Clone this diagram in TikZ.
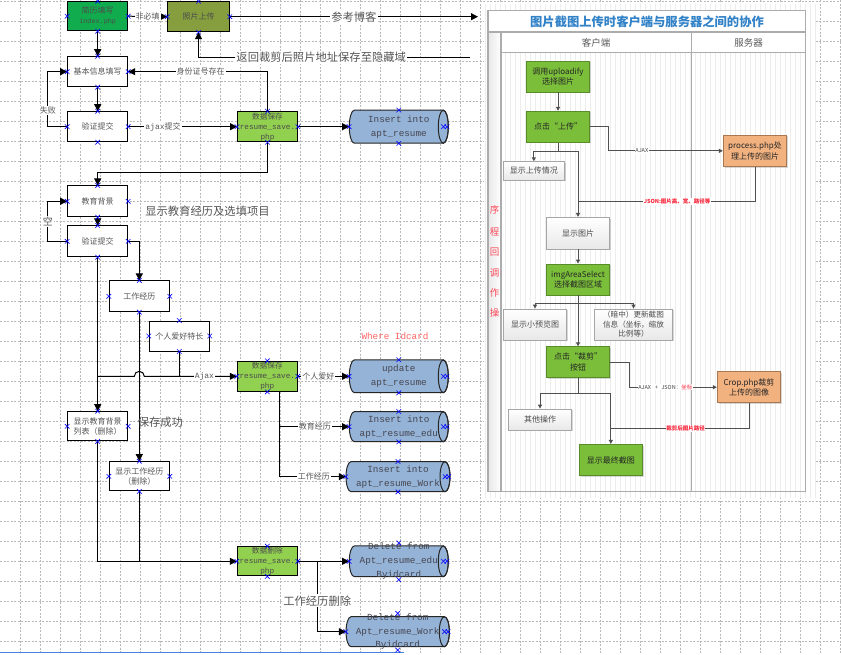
\documentclass[tikz,border=0pt]{standalone}
\usepackage{fontspec}
\setmainfont{Noto Sans CJK SC}
\newfontfamily\mono{Liberation Mono}
\usetikzlibrary{arrows.meta,calc,shapes.misc,shadows}
\definecolor{dkgreen}{RGB}{16,172,78}
\definecolor{olivebox}{RGB}{134,158,62}
\definecolor{lgreen}{RGB}{146,208,80}
\definecolor{cylblue}{RGB}{149,179,215}
\definecolor{txt}{RGB}{85,85,85}
\definecolor{cyltext}{RGB}{70,70,80}
\definecolor{igreen}{RGB}{122,190,58}
\definecolor{igreenb}{RGB}{88,140,40}
\definecolor{iorange}{RGB}{242,178,128}
\definecolor{iorangeb}{RGB}{170,120,80}
\definecolor{ititle}{RGB}{50,130,200}
\definecolor{iline}{RGB}{80,80,80}
\definecolor{ired}{RGB}{250,40,60}
\definecolor{wred}{RGB}{255,100,100}
\definecolor{winblue}{RGB}{70,130,220}
\newcommand\mycylbody[4]{%
  \filldraw[fill=cylblue,draw=black!85,line width=1pt]
    ({#1-#3/2+5},{#2-#4/2}) -- ({#1+#3/2-5},{#2-#4/2})
    arc[start angle=-90,end angle=90,x radius=5,y radius=#4/2]
    -- ({#1-#3/2+5},{#2+#4/2})
    arc[start angle=90,end angle=270,x radius=5,y radius=#4/2] -- cycle;
  \draw[line width=1pt,black!85] ({#1+#3/2-5},#2) ellipse[x radius=5,y radius=#4/2];}
\newcommand\mycyl[6]{\mycylbody{#2}{#3}{#4}{#5}%
  \node[cyltxt,minimum width=#4pt,minimum height=#5pt] (#1) at (#2,#3) {#6};}
\begin{document}
\begin{tikzpicture}[x=1pt,y=-1pt,
  gridst/.style={draw=gray!55,line width=0.7pt,dash pattern=on 2pt off 1.5pt},
  box/.style={draw=black,line width=1pt,fill=white,minimum width=60pt,minimum height=30pt,inner sep=0pt,align=center,text=txt,font=\fontsize{8}{10}\selectfont},
  lbl/.style={fill=white,inner sep=1pt,text=txt,font=\fontsize{8}{9}\selectfont},
  big/.style={inner sep=1pt,text=txt,font=\fontsize{11.3}{13}\selectfont},
  bigf/.style={big,fill=white},
  arr/.style={line width=1pt,-{Triangle[length=7pt,width=7pt]}},
  ln/.style={line width=1pt},
  cyltxt/.style={inner sep=0pt,align=center,text=cyltext,font=\mono\fontsize{9.3}{13.8}\selectfont},
  mk/.style={cross out,draw=blue,line width=0.6pt,minimum size=4pt,inner sep=0pt},
  ib/.style={line width=0.8pt,minimum width=62.6pt,minimum height=31pt,inner sep=1pt,align=center,font=\fontsize{8}{10.5}\selectfont,drop shadow={shadow xshift=1.2pt,shadow yshift=-1.2pt,opacity=0.3}},
  ig/.style={ib,draw=igreenb,fill=igreen,text=black!85},
  igray/.style={ib,draw=gray!70,top color=white,bottom color=gray!18,text=black!70},
  ior/.style={ib,draw=iorangeb,fill=iorange,text=black!85},
  iarr/.style={draw=iline,line width=1pt,-{Triangle[length=4pt,width=4pt]}},
  iln/.style={draw=iline,line width=1pt},
  ilbl/.style={fill=white,inner sep=0.6pt,text=black!75,font=\fontsize{5.5}{6}\selectfont}]
\useasboundingbox (0,0) rectangle (841,654);
\fill[white] (0,0) rectangle (841,654);
% background grid
\foreach \i in {1,...,42} \draw[gridst] (20*\i,0) -- (20*\i,654);
\foreach \i in {0,...,32} \draw[gridst] (0,1.7+20*\i) -- (841,1.7+20*\i);
\draw[line width=1.6pt,winblue] (0,652.5) -- (404,652.5);

% ---------------- inset ----------------
\fill[white] (484,4) rectangle (816,498);
\draw[step=5,gray!14,line width=0.4pt] (484,4) grid (816,498);
\fill[white] (488,10.7) rectangle (805.7,52.7);
\shade[left color=gray!18,right color=white] (488,32) rectangle (501,491.7);
\draw[gray!65,line width=1.3pt] (488,10.7) rectangle (805.7,491.7);
\draw[gray!65,line width=1.1pt] (488,32) -- (805.7,32);
\draw[gray!65,line width=1.1pt] (501,52.7) -- (805.7,52.7);
\draw[gray!65,line width=1.5pt] (501,32) -- (501,491.7);
\draw[gray!65,line width=1.5pt] (691.7,32) -- (691.7,491.7);
\node[text=ititle,font=\bfseries\fontsize{12.3}{14}\selectfont] (ititlen) at (647,21.3) {图片截图上传时客户端与服务器之间的协作};
\node[text=black!65,font=\fontsize{9.5}{11}\selectfont] (hc) at (596,42.5) {客户端};
\node[text=black!65,font=\fontsize{9.5}{11}\selectfont] (hs) at (748.7,42.5) {服务器};
\foreach \c/\yy in {序/210,程/231.7,回/251.7,调/273.3,作/293.3,操/313.3}
  \node[text=ired!85,font=\fontsize{9.5}{10}\selectfont,inner sep=0pt] at (494.5,\yy) {\c};

\node[ig] (iu) at (558,76.5) {调用uploadify\\选择图片};
\node[ig] (idj) at (558,126.7) {点击“上传”};
\node[ior,minimum width=63.4pt,minimum height=31.7pt] (iproc) at (755,150.85) {process.php处\\理上传的图片};
\node[igray,minimum width=61pt,minimum height=18.3pt] (isc) at (533.8,170.85) {显示上传情况};
\node[igray,minimum height=31.7pt] (ixt) at (578,233.2) {显示图片};
\node[ig] (iia) at (578,279.5) {imgAreaSelect\\选择截图区域};
\node[igray,minimum width=63.4pt] (ixy) at (535,324.5) {显示小预览图};
\node[igray,minimum width=78.4pt,font=\fontsize{7.6}{9.6}\selectfont] (iam) at (633.5,324.5) {（暗中）更新截图\\信息（坐标，缩放\\比例等）};
\node[ig,minimum height=30.6pt] (idc) at (578,362) {点击“裁剪”\\按钮};
\node[ior,minimum width=63.4pt] (icrop) at (749,387.2) {Crop.php裁剪\\上传的图像};
\node[igray,minimum width=63.4pt,minimum height=21pt] (iqt) at (540,419.5) {其他操作};
\node[ig,minimum width=63pt,minimum height=31.4pt] (izz) at (610.8,460) {显示最终截图};

\coordinate (ij1) at (578,201.7);
\coordinate (ij2) at (611,428.7);
\draw[iarr] (iu.south) -- (idj.north);
\draw[iarr] (idj.east) -- ++(19,0) |- node[ilbl,pos=0.645]{AJAX} (iproc.west);
\draw[iarr] (idj.south) -- ++(0,8.4) -| (isc.north);
\draw[iarr] (idj.south) -- ++(0,8.4) -| (ixt.north);
\draw[iln] (iproc.south) |- node[ilbl,pos=0.72,text=ired,font=\bfseries\fontsize{5.5}{6}\selectfont]{JSON:图片高、宽、路径等} (ij1);
\draw[iarr] (ixt.south) -- (iia.north);
\draw[iarr] (iia.south) -- ++(0,7.7) -| (ixy.north);
\draw[iarr] (iia.south) -- ++(0,7.7) -| (iam.north);
\draw[iarr] (iia.south) -- (idc.north);
\draw[iarr] (idc.east) -- ++(19.7,0) |- node[ilbl,pos=0.705]{AJAX\ \ \ +\ \ \ JSON：\textcolor{ired}{坐标}} (icrop.west);
\draw[iln] (icrop.south) |- node[ilbl,pos=0.73,text=ired,font=\bfseries\fontsize{5.5}{6}\selectfont]{裁剪后图片路径} (ij2);
\draw[iarr] (idc.south) -- ++(0,15.4) -| (iqt.north);
\draw[iarr] (idc.south) -- ++(0,15.4) -| (izz.north);

% ---------------- left flow ----------------
\node[box,fill=dkgreen,minimum height=29pt,text=black!70] (jl) at (97.7,16.2) {简历填写\\{\mono\fontsize{6.8}{8}\selectfont index.php}};
\node[box,fill=olivebox,minimum width=61.6pt,text=black!70] (zp) at (198.5,16.7) {照片上传};
\node[box] (jb) at (97.7,71.7) {基本信息填写};
\node[box] (yz1) at (97.7,126.7) {验证提交};
\node[box,fill=lgreen,text=black!70,font=\fontsize{7.7}{10}\selectfont] (ds1) at (267.5,126.7) {数据保存\\{\mono resume\_save.}\\{\mono php}};
\node[box,minimum height=30.7pt] (jy) at (97.7,201.3) {教育背景};
\node[box,minimum height=30.7pt] (yz2) at (97.7,241.3) {验证提交};
\node[box,minimum height=30.7pt] (gz) at (139.3,296.3) {工作经历};
\node[box] (ah) at (179.3,336) {个人爱好特长};
\node[box,fill=lgreen,text=black!70,font=\fontsize{7.7}{10}\selectfont] (ds2) at (267.3,376.3) {数据保存\\{\mono resume\_save.}\\{\mono php}};
\node[box,minimum height=29.3pt] (xj) at (97.7,426.3) {显示教育背景\\列表（删除）};
\node[box,minimum height=29.3pt] (xg) at (139.3,476.3) {显示工作经历\\（删除）};
\node[box,fill=lgreen,text=black!70,font=\fontsize{7.7}{10}\selectfont,minimum height=29.3pt] (ds3) at (267.3,561.3) {数据删除\\{\mono resume\_save.}\\{\mono php}};

\mycyl{ins1}{398.8}{126.7}{99}{33}{Insert into\\apt\_resume}
\mycyl{up1}{398.8}{376.3}{99}{32.7}{update\\apt\_resume}
\mycyl{inse}{398.8}{426.7}{99}{30}{Insert into\\apt\_resume\_edu}
\mycyl{insw}{398}{476.7}{104}{30}{Insert into\\apt\_resume\_Work}
\mycyl{de1}{398.8}{561.3}{99}{30.7}{Delete from\\Apt\_resume\_edu\\Byidcard}
\mycyl{de2}{397.7}{631.7}{103.3}{30}{Delete from\\Apt\_resume\_Work\\Byidcard}

\node[text=wred,font=\mono\fontsize{9.3}{11}\selectfont] (wh) at (395,335.7) {Where Idcard};
\node[big] (edutxt) at (207.5,211.5) {显示教育经历及选填项目};

\coordinate (blog) at (478,16.7);
\coordinate (ret) at (470,57.7);
\draw[arr] (jl.east) -- node[lbl]{非必填} (zp.west);
\draw[arr] (zp.east) -- node[bigf]{参考博客} (blog);
\draw[arr] (ret) -| node[bigf,pos=0.274]{返回裁剪后照片地址保存至隐藏域} (zp.south);
\draw[arr] (jl.south) -- (jb.north);
\draw[arr] (jb.south) -- (yz1.north);
\draw[arr] (yz1.west) -- ++(-19.4,0) |- node[lbl,pos=0.15]{失败} (jb.west);
\draw[arr] (yz1.east) -- node[lbl,pos=0.32]{{\mono ajax}提交} (ds1.west);
\draw[arr] (ds1.north) |- node[lbl,pos=0.74]{身份证号存在} (jb.east);
\draw[arr] (ds1.east) -- (ins1.west);
\draw[arr] (ds1.south) -- ++(0,30) -| (jy.north);
\draw[arr] (jy.south) -- (yz2.north);
\draw[arr] (yz2.west) -- ++(-19.4,0) |- node[lbl,pos=0.25,font=\fontsize{10}{11}\selectfont]{空} (jy.west);
\draw[arr] (yz2.east) -| (gz.north);
\draw[arr] (yz2.south) -- (xj.north);
\draw[ln] (ah.south) -- (ah.south |- ds2.west);
\draw[arr] (yz2.south |- ds2.west) -- ($(gz.south |- ds2.west)+(-5,0)$) arc[start angle=180,end angle=360,radius=5] -- node[lbl,pos=0.65,font=\mono\fontsize{8}{9}\selectfont]{Ajax} (ds2.west);
\draw[arr] (gz.south) -- node[big,pos=0.74,anchor=west,xshift=-3pt]{保存成功} (xg.north);
\draw[arr] (ds2.east) -- node[lbl,pos=0.4]{个人爱好} (up1.west);
\coordinate (ds2b) at ($(ds2.south)+(12,0)$);
\draw[arr] (ds2b) |- node[lbl,pos=0.755]{教育经历} (inse.west);
\draw[arr] (ds2b) |- node[lbl,pos=0.76]{工作经历} (insw.west);
\draw[arr] (xj.south) |- (ds3.west);
\draw[ln] (xg.south) -- (xg.south |- ds3.west);
\draw[arr] (ds3.east) -- (de1.west);
\coordinate (ds3r) at ($(ds3.east)+(19.4,0)$);
\draw[arr] (ds3r) |- node[bigf,pos=0.28]{工作经历删除} (de2.west);

% connection markers
\foreach \n in {jl,zp,jb,yz1,ds1,jy,yz2,gz,ah,ds2,xj,xg,ds3}
  \foreach \a in {north,south,east,west} \node[mk] at (\n.\a) {};
\foreach \n in {ins1,up1,inse,insw,de1,de2} {
  \node[mk] at (\n.north) {}; \node[mk] at (\n.south) {}; \node[mk] at (\n.west) {};
  \node[mk] at ($(\n.east)+(-5,0)$) {}; \node[mk] at ($(\n.east)+(-1.5,0)$) {};}
\end{tikzpicture}
\end{document}
